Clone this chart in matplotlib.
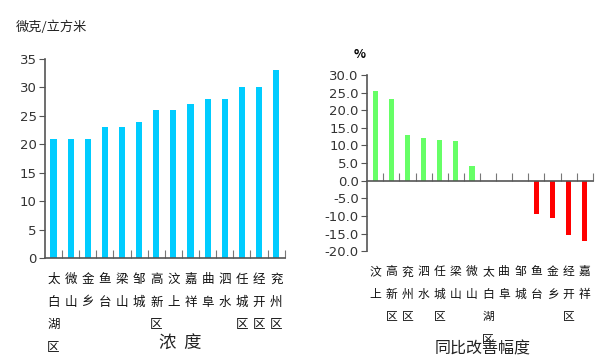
import matplotlib
matplotlib.use("Agg")
import matplotlib.pyplot as plt
import matplotlib.transforms as mtransforms

plt.rcParams['font.family'] = ['Noto Sans CJK SC', 'DejaVu Sans']

# left: concentration
conc_names = ["太白湖区", "微山", "金乡", "鱼台", "梁山", "邹城", "高新区",
              "汶上", "嘉祥", "曲阜", "泗水", "任城区", "经开区", "兖州区"]
conc_values = [21, 21, 21, 23, 23, 24, 26, 26, 27, 28, 28, 30, 30, 33]
conc_yticks = [0, 5, 10, 15, 20, 25, 30, 35]

# right: year-on-year improvement
impr_names = ["汶上", "高新区", "兖州区", "泗水", "任城区", "梁山", "微山",
              "太白湖区", "曲阜", "邹城", "鱼台", "金乡", "经开区", "嘉祥"]
impr_values = [25.5, 23.2, 12.9, 12.2, 11.6, 11.2, 4.3, 0, 0, 0,
               -9.5, -10.5, -15.3, -17.2]
impr_yticks = [-20, -15, -10, -5, 0, 5, 10, 15, 20, 25, 30]

spine_c = "#555555"
num_font = ['Liberation Sans Narrow', 'DejaVu Sans Condensed', 'DejaVu Sans']

fig = plt.figure(figsize=(6.15, 3.64), dpi=100)
ax1 = fig.add_axes([0.073, 0.291, 0.390, 0.547])
ax2 = fig.add_axes([0.597, 0.310, 0.367, 0.484])


def style(ax, names, yticks, fmt, off, fs):
    ax.set_xlim(-0.5, len(names) - 0.5)
    ax.set_ylim(yticks[0], yticks[-1])
    for s in ["top", "right"]:
        ax.spines[s].set_visible(False)
    for s in ["left", "bottom"]:
        ax.spines[s].set_color(spine_c)
        ax.spines[s].set_linewidth(1.2)
    ax.set_yticks(yticks)
    ax.set_yticklabels([fmt.format(v) for v in yticks], family=num_font,
                       fontsize=9.5, color="#333333")
    ax.tick_params(axis="y", direction="out", length=4, color=spine_c, pad=2)
    ax.set_xticks([i + 0.5 for i in range(len(names))])
    ax.set_xticklabels([])
    ax.tick_params(axis="x", direction="in", length=6, color="#777777")
    trans = mtransforms.blended_transform_factory(ax.transData, ax.transAxes)
    for i, n in enumerate(names):
        ax.text(i, off, "\n".join(n), transform=trans, ha="center", va="top",
                fontsize=fs, linespacing=1.95, color="#111111", weight="medium")


ax1.bar(range(len(conc_values)), conc_values, width=0.36, color="#00CCFF")
style(ax1, conc_names, conc_yticks, "{:d}", -0.075, 9)
fig.text(0.025, 0.925, "微克/立方米", fontsize=9.5, color="#222222", va="center")
fig.text(0.293, 0.055, "浓  度", fontsize=12.5, ha="center", va="center",
         color="#222222", weight="medium")

colors = ["#66FF66" if v >= 0 else "#FF0000" for v in impr_values]
ax2.bar(range(len(impr_values)), impr_values, width=0.33, color=colors)
style(ax2, impr_names, impr_yticks, "{:.1f}", -0.08, 8.5)
ax2.spines["bottom"].set_position(("data", 0))
fig.text(0.584, 0.85, "%", fontsize=9, ha="center", va="center", weight="bold")
fig.text(0.784, 0.042, "同比改善幅度", fontsize=11.5, ha="center", va="center",
         color="#222222")

fig.savefig("out.png", dpi=100)
